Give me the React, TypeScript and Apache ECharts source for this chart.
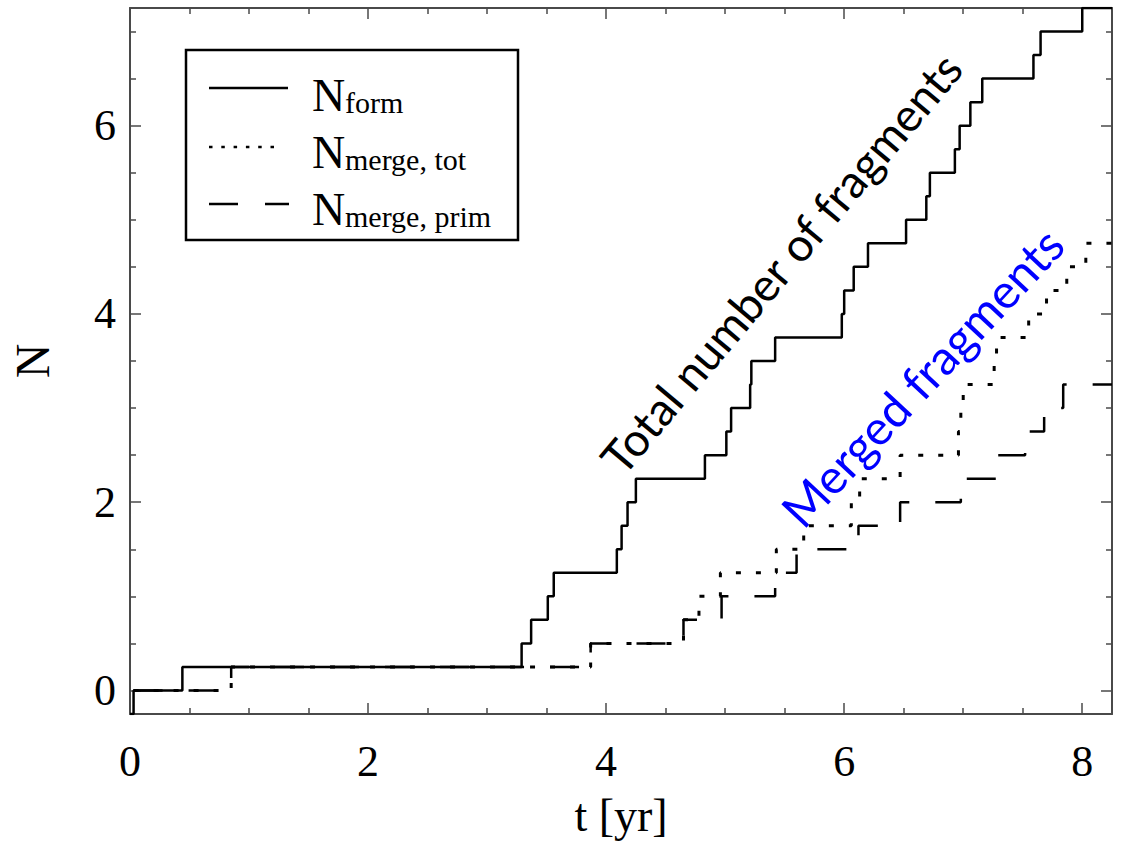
import React, { useEffect, useRef } from "react";
import * as echarts from "echarts";

// Axis ticks / labels
const xMajorTicks = [0, 2, 4, 6, 8];
const xMinorTicks = [0.5, 1, 1.5, 2.5, 3, 3.5, 4.5, 5, 5.5, 6.5, 7, 7.5];
const yMajorTicks = [0, 2, 4, 6];
const yMinorTicks = [0.5, 1, 1.5, 2.5, 3, 3.5, 4.5, 5, 5.5, 6.5, 7];

// N_form (solid): time where the value changes, and the new value
const formT = [0, 0.03, 0.44, 3.29, 3.37, 3.51, 3.56, 4.09, 4.13, 4.18, 4.25, 4.83, 5.01, 5.05, 5.21, 5.22, 5.42, 5.98, 6.0, 6.08, 6.2, 6.52, 6.69, 6.72, 6.93, 6.97, 7.06, 7.16, 7.59, 7.65, 8.0, 8.25];
const formN = [-0.25, 0, 0.25, 0.5, 0.75, 1.0, 1.25, 1.5, 1.75, 2.0, 2.25, 2.5, 2.75, 3.0, 3.25, 3.5, 3.75, 4.0, 4.25, 4.5, 4.75, 5.0, 5.25, 5.5, 5.75, 6.0, 6.25, 6.5, 6.75, 7.0, 7.25, 7.25];

// N_merge,tot (dotted)
const totT = [0.03, 0.85, 3.87, 4.65, 4.78, 4.96, 5.43, 5.66, 6.06, 6.13, 6.47, 6.96, 6.98, 7.0, 7.26, 7.28, 7.55, 7.7, 7.87, 8.03, 8.25];
const totN = [0, 0.25, 0.5, 0.75, 1.0, 1.25, 1.5, 1.75, 2.0, 2.25, 2.5, 2.75, 3.0, 3.25, 3.5, 3.75, 4.0, 4.25, 4.5, 4.75, 4.75];

// N_merge,prim (dashed)
const primT = [0.03, 0.85, 3.87, 4.65, 4.97, 5.42, 5.6, 6.12, 6.47, 6.98, 7.28, 7.52, 7.68, 7.84, 8.25];
const primN = [0, 0.25, 0.5, 0.75, 1.0, 1.25, 1.5, 1.75, 2.0, 2.25, 2.5, 2.75, 3.0, 3.25, 3.25];

const legendSubs = ["form", "merge, tot", "merge, prim"];
const annotationTotal = "Total number of fragments";
const annotationMerged = "Merged fragments";

const SERIF = "'Liberation Serif', 'Times New Roman', serif";
const SANS = "Lato, 'Noto Sans', sans-serif";
const FRAME = "#4a4a4a";

const zip = (t: number[], n: number[]) => t.map((v, i) => [v, n[i]]);

function xAxisDef(position: "top" | "bottom", ticks: number[], len: number, line: boolean, labels: boolean) {
  return {
    type: "value",
    position,
    min: 0,
    max: 8.25,
    axisLine: { show: line, onZero: false, lineStyle: { color: FRAME, width: 2 } },
    axisTick: { show: true, inside: true, length: len, customValues: ticks, lineStyle: { color: FRAME, width: 1.5 } },
    axisLabel: labels
      ? { show: true, customValues: ticks, margin: 25, color: "#000", fontFamily: SERIF, fontSize: 44 }
      : { show: false },
    splitLine: { show: false },
  };
}

function yAxisDef(position: "left" | "right", ticks: number[], len: number, line: boolean, labels: boolean) {
  return {
    type: "value",
    position,
    min: -0.25,
    max: 7.25,
    axisLine: { show: line, onZero: false, lineStyle: { color: FRAME, width: 2 } },
    axisTick: { show: true, inside: true, length: len, customValues: ticks, lineStyle: { color: FRAME, width: 1.5 } },
    axisLabel: labels
      ? { show: true, customValues: ticks, margin: 14, color: "#000", fontFamily: SERIF, fontSize: 44 }
      : { show: false },
    splitLine: { show: false },
  };
}

export default function App() {
  const ref = useRef<HTMLDivElement>(null);
  useEffect(() => {
    if (!ref.current) return;
    const chart = echarts.init(ref.current, undefined, { renderer: "svg" });

    const legendX = 186, legendY = 50, legendW = 332, legendH = 190;
    const rowLineY = [88, 147, 204];
    const rowNY = [95, 152, 209];
    const legendGraphics: any[] = [
      { type: "rect", shape: { x: legendX, y: legendY, width: legendW, height: legendH }, style: { fill: "#fff", stroke: "#000", lineWidth: 2.5 }, z: 100 },
      { type: "line", shape: { x1: 209, y1: rowLineY[0], x2: 288, y2: rowLineY[0] }, style: { stroke: "#000", lineWidth: 2.5 }, z: 101 },
      { type: "line", shape: { x1: 209, y1: rowLineY[1], x2: 275, y2: rowLineY[1] }, style: { stroke: "#000", lineWidth: 2.5, lineDash: [3.5, 8.8] }, z: 101 },
      { type: "line", shape: { x1: 209, y1: rowLineY[2], x2: 289, y2: rowLineY[2] }, style: { stroke: "#000", lineWidth: 2.5, lineDash: [29, 27] }, z: 101 },
    ];
    legendSubs.forEach((s, i) => {
      legendGraphics.push({
        type: "text", x: 312, y: rowNY[i], z: 101,
        style: { text: "N", fontFamily: SERIF, fontSize: 46, fill: "#000", align: "left", verticalAlign: "middle" },
      });
      legendGraphics.push({
        type: "text", x: 345, y: rowNY[i] + 7, z: 101,
        style: { text: s, fontFamily: SERIF, fontSize: 30, fill: "#000", align: "left", verticalAlign: "middle" },
      });
    });

    const annotations: any[] = [
      {
        type: "text", x: 781, y: 263, rotation: (50 * Math.PI) / 180, z: 50,
        style: { text: annotationTotal, fontFamily: SANS, fontSize: 46, fill: "#000", align: "center", verticalAlign: "middle" },
      },
      {
        type: "text", x: 922, y: 377, rotation: (47 * Math.PI) / 180, z: 50,
        style: { text: annotationMerged, fontFamily: SANS, fontSize: 48, fill: "#0000ff", align: "center", verticalAlign: "middle" },
      },
    ];

    chart.setOption({
      animation: false,
      backgroundColor: "#fff",
      grid: { left: 129, right: 9, top: 8, bottom: 125, containLabel: false },
      xAxis: [
        {
          ...xAxisDef("bottom", xMajorTicks, 11, true, true),
          name: "t [yr]",
          nameLocation: "middle",
          nameGap: 78,
          nameTextStyle: { fontFamily: SERIF, fontSize: 46, color: "#000" },
        },
        xAxisDef("bottom", xMinorTicks, 6, false, false),
        xAxisDef("top", xMajorTicks, 11, true, false),
        xAxisDef("top", xMinorTicks, 6, false, false),
      ],
      yAxis: [
        {
          ...yAxisDef("left", yMajorTicks, 11, true, true),
          name: "N",
          nameLocation: "middle",
          nameGap: 74,
          nameRotate: 90,
          nameTextStyle: { fontFamily: SERIF, fontSize: 48, color: "#000" },
        },
        yAxisDef("left", yMinorTicks, 6, false, false),
        yAxisDef("right", yMajorTicks, 11, true, false),
        yAxisDef("right", yMinorTicks, 6, false, false),
      ],
      series: [
        {
          name: "N_merge, prim",
          type: "line",
          step: "end",
          symbol: "none",
          data: zip(primT, primN),
          lineStyle: { color: "#000", width: 2.5, type: [29, 26] },
          z: 3,
        },
        {
          name: "N_merge, tot",
          type: "line",
          step: "end",
          symbol: "none",
          data: zip(totT, totN),
          lineStyle: { color: "#000", width: 3, type: [5, 15] },
          z: 4,
        },
        {
          name: "N_form",
          type: "line",
          step: "end",
          symbol: "none",
          data: zip(formT, formN),
          lineStyle: { color: "#000", width: 2.5 },
          z: 5,
        },
      ],
      graphic: [...annotations, ...legendGraphics],
    });

    return () => chart.dispose();
  }, []);

  return (
    <div
      ref={ref}
      style={{ position: "fixed", left: 0, top: 0, width: 1121, height: 843, background: "#fff" }}
    />
  );
}
